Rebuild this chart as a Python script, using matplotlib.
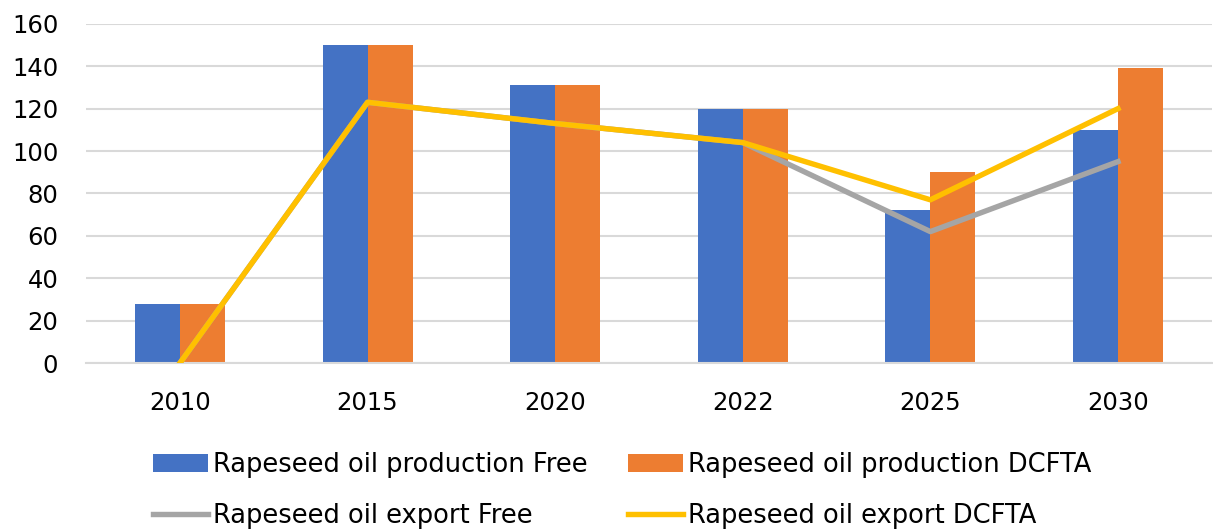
import numpy as np
import matplotlib.pyplot as plt

years = ['2010', '2015', '2020', '2022', '2025', '2030']
prod_free = [28, 150, 131, 120, 72, 110]
prod_dcfta = [28, 150, 131, 120, 90, 139]
export_free = [0, 123, 113, 104, 62, 95]
export_dcfta = [0, 123, 113, 104, 77, 120]

blue = '#4472C4'
orange = '#ED7D31'
grey = '#A5A5A5'
yellow = '#FFC000'

plt.rcParams['font.family'] = ['DejaVu Sans']

fig = plt.figure(figsize=(12.13, 5.30), dpi=100)
ax = fig.add_axes([0.071, 0.315, 0.928, 0.64])

x = np.arange(len(years))
w = 0.24
b1 = ax.bar(x - w / 2, prod_free, w, color=blue, zorder=2)
b2 = ax.bar(x + w / 2, prod_dcfta, w, color=orange, zorder=2)
l1, = ax.plot(x, export_free, color=grey, lw=3.9, zorder=3)
l2, = ax.plot(x, export_dcfta, color=yellow, lw=3.9, zorder=4)

ax.set_xlim(-0.5, len(years) - 0.5)
ax.set_ylim(0, 160)
ax.set_yticks(range(0, 161, 20))
ax.set_xticks(x)
ax.set_xticklabels(years)
ax.yaxis.grid(True, color='#D9D9D9', lw=1.5, zorder=0)
ax.set_axisbelow(True)
for s in ['top', 'right', 'left']:
    ax.spines[s].set_visible(False)
ax.spines['bottom'].set_color('#D9D9D9')
ax.spines['bottom'].set_linewidth(1.5)
ax.tick_params(axis='both', length=0, labelsize=17.5, colors='black')
ax.tick_params(axis='x', pad=20)
ax.tick_params(axis='y', pad=20)

# ncol=2 fills column by column
fig.legend([b1, l1, b2, l2],
           ['Rapeseed oil production Free', 'Rapeseed oil export Free',
            'Rapeseed oil production DCFTA', 'Rapeseed oil export DCFTA'],
           ncol=2, loc='upper left', bbox_to_anchor=(0.126, 0.148), frameon=False,
           fontsize=18.5, handlelength=2.15, handletextpad=0.2,
           columnspacing=1.55, labelspacing=0.98, borderaxespad=0, borderpad=0)

fig.savefig('out.png', dpi=100)
